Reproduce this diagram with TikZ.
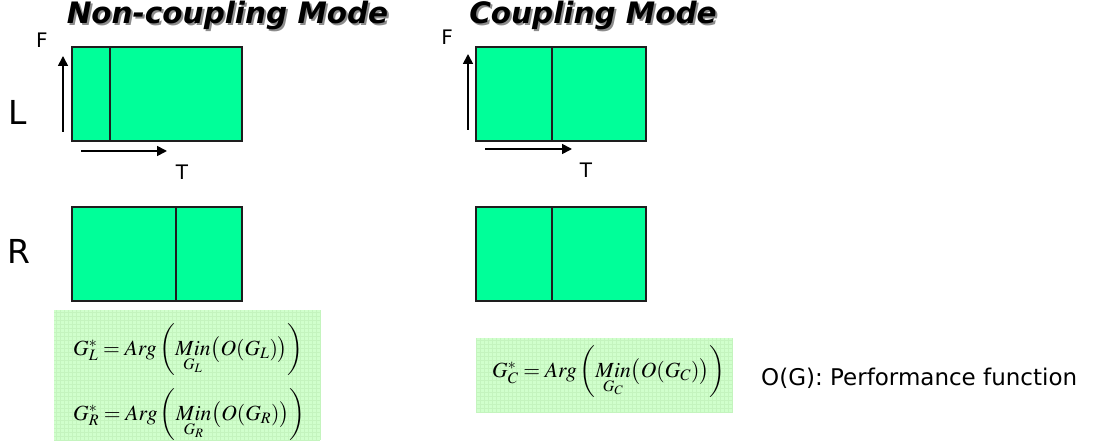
\documentclass[tikz,border=0pt]{standalone}
\usepackage{mathptmx}
\usepackage{fontspec}
\setmainfont{DejaVu Sans}
\usetikzlibrary{arrows.meta}
\definecolor{boxgreen}{RGB}{0,255,153}
\definecolor{panelgreen}{RGB}{208,255,204}
\definecolor{gridgreen}{RGB}{196,244,190}
\definecolor{edgegray}{RGB}{30,30,30}
\begin{document}
\begin{tikzpicture}[x=1pt,y=-1pt,
  cell/.style={draw=edgegray,line width=1.8pt,fill=boxgreen,minimum width=170pt,minimum height=94pt,inner sep=0pt},
  divider/.style={draw=edgegray,line width=1.4pt},
  axis/.style={line width=1.7pt,-{Triangle[length=10pt,width=10pt]}},
  small/.style={font=\fontsize{20}{20}\selectfont,inner sep=0pt},
  big/.style={font=\fontsize{33}{33}\selectfont,inner sep=0pt},
  title/.style={font=\fontsize{29.5}{29.5}\selectfont\bfseries\itshape,inner sep=0pt},
  panel/.style={fill=panelgreen,draw=none},
  formula/.style={font=\fontsize{21.6}{21.6}\selectfont,inner sep=0pt,anchor=base west}]
\useasboundingbox (0,0) rectangle (1094,446);
% titles with shadow
\node[title,text=black!45] (t1s) at (229.5,17) {Non-coupling Mode};
\node[title] (t1) at (227.5,15) {Non-coupling Mode};
\node[title,text=black!45] (t2s) at (595,17) {Coupling Mode};
\node[title] (t2) at (593,15) {Coupling Mode};
% row labels
\node[big] (lL) at (18,112) {L};
\node[big] (lR) at (19,251) {R};
% non-coupling boxes
\node[cell] (ncL) at (157,94) {};
\draw[divider] (ncL.north -| 110,0) -- (ncL.south -| 110,0);
\node[cell] (ncR) at (157,254) {};
\draw[divider] (ncR.north -| 176,0) -- (ncR.south -| 176,0);
% coupling boxes
\node[cell] (cL) at (561,94) {};
\draw[divider] (cL.north -| 552,0) -- (cL.south -| 552,0);
\node[cell] (cR) at (561,254) {};
\draw[divider] (cR.north -| 552,0) -- (cR.south -| 552,0);
% axes non-coupling
\coordinate (a1s) at (63,132);
\coordinate (a1e) at (63,56);
\coordinate (a2s) at (81,151);
\coordinate (a2e) at (167,151);
\draw[axis] (a1s) -- (a1e);
\draw[axis] (a2s) -- (a2e);
\node[small] (F1) at (42,40) {F};
\node[small] (T1) at (182,172) {T};
% axes coupling
\coordinate (b1s) at (468,130);
\coordinate (b1e) at (468,54);
\coordinate (b2s) at (485,149);
\coordinate (b2e) at (572,149);
\draw[axis] (b1s) -- (b1e);
\draw[axis] (b2s) -- (b2e);
\node[small] (F2) at (447,37) {F};
\node[small] (T2) at (586,170) {T};
% formula panels
\fill[panel] (54,310) rectangle (320,440);
\draw[gridgreen,line width=0.3pt,step=4pt] (54,310) grid (320,440);
\fill[panel] (476,338) rectangle (733,413);
\draw[gridgreen,line width=0.3pt,step=4pt] (476,338) grid (733,413);
\node[formula] (fL) at (73,355) {$G_L^* = Arg\left(\mathop{Min}\limits_{G_L}\bigl(O(G_L)\bigr)\right)$};
\node[formula] (fR) at (73,420) {$G_R^* = Arg\left(\mathop{Min}\limits_{G_R}\bigl(O(G_R)\bigr)\right)$};
\node[formula] (fC) at (492,377) {$G_C^* = Arg\left(\mathop{Min}\limits_{G_C}\bigl(O(G_C)\bigr)\right)$};
\node[font=\fontsize{23}{23}\selectfont,inner sep=0pt,anchor=west] (perf) at (761,378) {O(G):\ Performance function};
\end{tikzpicture}
\end{document}
